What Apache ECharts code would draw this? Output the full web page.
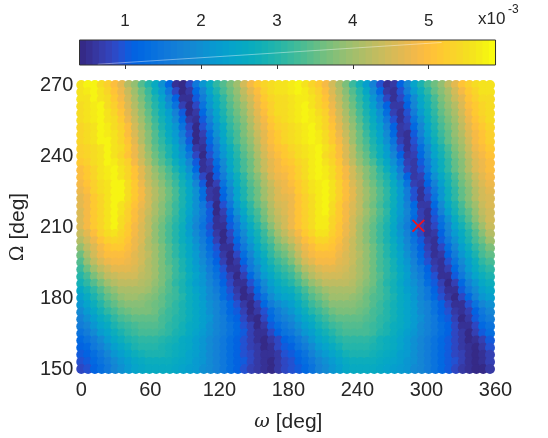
<!DOCTYPE html>
<html>
<head>
<meta charset="utf-8">
<title>Omega map</title>
<script src="https://cdn.jsdelivr.net/npm/echarts@6/dist/echarts.min.js"></script>
<style>html,body{margin:0;padding:0;background:#fff}#c{width:548px;height:438px}</style>
</head>
<body>
<div id="c"></div>
<script>
// Values per row of constant Omega, in units of 1e-4; columns run along omega.
const row270 = [56,58,58,55,53,50,47,42,39,34,30,26,20,12,5,4,8,15,21,26,31,34,37,40,45,49,52,54,55,56,56,57,58,56,54,52,49,45,41,37,32,28,23,17,9,5,6,11,18,24,29,33,36,39,43,47,51,53,55,56,56];
const row267 = [56,57,58,56,54,51,48,44,40,36,32,27,22,15,8,4,6,12,18,24,29,33,36,39,43,47,50,53,55,56,56,57,58,57,55,53,50,46,42,38,34,30,25,19,12,6,5,9,16,22,27,31,35,38,41,45,49,52,54,56,56];
const row264 = [56,56,58,56,55,52,49,45,41,37,33,29,24,18,11,5,5,10,16,22,27,31,35,38,42,45,49,52,54,55,55,56,57,57,56,54,51,47,43,39,35,31,27,21,15,8,5,8,13,19,25,29,33,37,40,44,47,51,53,55,55];
const row261 = [55,56,57,58,55,53,50,46,42,38,34,30,26,20,14,7,4,8,14,21,26,30,34,37,40,44,48,51,53,55,55,56,57,58,56,54,52,48,44,40,36,32,28,23,17,11,6,6,11,18,24,28,32,36,39,42,46,50,52,54,55];
const row258 = [55,56,57,58,56,54,51,47,43,39,35,31,27,23,17,10,4,6,12,19,24,29,33,36,39,43,47,50,53,55,55,56,57,58,57,55,53,49,45,41,37,33,29,25,20,13,7,5,9,16,22,27,31,35,38,41,45,49,52,54,55];
const row255 = [55,56,57,58,56,55,52,48,44,40,36,32,28,24,19,12,6,5,10,17,23,28,32,35,38,42,46,49,52,54,55,56,57,58,57,56,54,50,46,42,38,34,30,26,21,15,9,5,8,14,20,26,30,34,37,40,44,48,51,53,55];
const row252 = [54,55,56,58,57,55,53,50,45,41,37,33,29,25,21,14,8,4,9,15,21,26,31,34,37,41,45,48,51,53,54,55,56,57,58,56,54,51,47,43,39,35,31,27,23,17,11,6,7,12,18,24,29,33,36,39,43,47,50,52,54];
const row249 = [54,55,56,58,57,56,54,50,46,42,38,34,30,26,22,16,9,4,7,13,20,25,30,33,37,40,44,47,50,52,54,55,56,57,58,57,55,52,48,44,40,36,32,28,24,19,12,6,5,10,17,23,28,32,35,39,42,46,49,51,53];
const row246 = [54,55,56,58,58,56,54,51,47,42,38,34,31,27,23,18,10,4,6,12,18,24,29,33,36,39,43,47,50,52,54,55,56,57,58,57,55,52,49,45,40,36,33,29,25,20,14,7,5,9,15,21,27,31,35,38,41,45,49,51,53];
const row243 = [53,54,55,56,58,56,55,52,48,44,39,35,32,29,25,20,13,6,5,10,16,22,27,31,35,38,42,46,49,51,52,54,55,56,57,58,56,54,50,46,42,37,34,30,27,22,16,9,5,8,13,19,25,29,33,37,40,44,48,50,52];
const row240 = [53,54,55,56,58,56,54,51,48,44,40,36,33,29,25,21,15,8,4,9,15,21,26,30,34,37,41,45,48,50,52,53,55,56,57,58,55,53,50,46,42,38,35,31,27,23,18,11,6,7,12,18,24,28,32,36,39,43,47,49,51];
const row237 = [52,53,55,56,58,57,55,53,49,45,41,37,34,31,27,23,18,10,5,7,13,19,25,29,33,36,40,44,47,49,51,52,54,55,57,58,56,54,51,47,43,39,36,33,29,25,20,14,7,6,10,16,22,27,31,35,38,42,46,48,50];
const row234 = [50,52,54,56,57,58,56,54,51,47,43,39,36,33,29,25,20,12,5,6,11,18,24,29,33,36,40,44,47,49,50,51,53,55,57,58,57,55,52,49,45,41,38,35,31,27,22,16,8,6,9,15,22,27,31,35,38,42,46,48,50];
const row231 = [50,52,54,56,57,58,56,54,51,47,43,40,37,34,31,27,22,15,8,4,10,16,22,27,31,35,38,42,46,48,49,51,53,55,57,58,57,55,52,49,45,42,38,35,32,29,24,18,11,6,7,13,20,25,29,33,37,40,44,47,49];
const row228 = [49,51,53,55,56,58,58,55,52,48,44,41,38,35,32,28,24,18,10,4,7,14,20,26,30,34,37,41,44,47,48,50,52,54,56,57,58,56,53,50,46,43,39,36,33,30,26,21,14,7,6,11,17,23,28,32,36,39,43,46,48];
const row225 = [48,50,53,55,56,58,58,55,52,49,45,42,39,36,33,29,25,20,13,6,5,12,18,24,29,33,36,40,43,46,48,49,52,54,56,57,58,56,53,50,47,43,40,37,34,31,27,22,16,9,5,9,15,21,27,31,35,38,42,45,47];
const row222 = [47,49,52,54,56,58,58,55,52,49,45,42,39,36,33,29,25,20,13,6,5,11,17,24,29,33,36,40,43,46,47,48,51,53,55,57,58,56,53,50,47,43,40,37,34,31,27,22,16,9,5,8,14,21,27,31,35,38,42,45,46];
const row219 = [47,49,52,54,56,58,56,54,51,48,45,41,38,35,32,29,25,20,15,9,4,9,15,22,27,31,35,38,42,45,46,48,51,53,55,57,58,55,52,49,46,43,39,36,33,30,27,22,17,12,6,6,12,19,25,29,33,37,40,44,46];
const row216 = [46,49,52,54,56,58,56,53,50,47,44,41,38,35,32,28,24,20,16,10,4,7,13,20,25,30,33,37,41,44,46,48,51,53,55,57,58,55,52,49,46,43,40,37,34,31,26,22,18,13,7,5,10,17,23,28,32,35,39,43,45];
const row213 = [46,49,52,54,56,58,55,53,50,47,43,40,37,34,31,28,23,19,15,10,5,6,11,17,23,28,32,36,40,43,45,48,51,53,55,57,57,54,52,49,45,42,39,36,33,30,26,21,17,12,7,5,9,14,20,26,30,34,38,42,45];
const row210 = [46,49,52,54,56,58,55,52,49,46,43,39,36,33,30,27,22,18,14,9,5,5,10,15,21,26,30,34,38,42,45,48,51,53,55,57,57,54,51,48,45,41,38,35,32,29,25,20,16,12,7,5,8,13,18,24,28,32,36,40,44];
const row207 = [44,47,50,53,55,56,54,52,49,46,43,39,36,33,30,27,23,19,15,10,6,4,8,14,19,24,28,32,36,40,43,46,49,52,54,56,56,53,51,48,45,41,38,35,32,29,25,21,17,13,8,5,6,11,17,22,26,30,34,38,42];
const row204 = [42,45,48,51,53,54,53,51,48,46,42,39,36,33,30,27,24,20,16,12,7,4,7,12,17,22,27,31,34,38,41,44,47,50,52,54,54,52,50,47,44,41,38,35,32,29,26,22,18,14,10,6,5,10,15,20,25,29,33,36,40];
const row201 = [39,43,46,49,51,52,52,50,48,45,42,40,37,34,31,28,25,21,17,13,9,5,5,10,15,20,25,29,32,36,38,41,45,48,50,52,52,51,49,47,44,41,39,36,33,30,27,23,19,15,11,7,5,8,13,18,23,27,31,34,37];
const row198 = [36,41,45,48,50,50,50,49,47,45,43,40,37,34,31,28,25,22,18,14,10,6,4,8,13,18,23,27,31,34,36,39,43,47,49,50,50,50,48,46,44,42,39,36,33,30,27,24,20,16,12,8,5,6,11,16,21,25,29,33,35];
const row195 = [34,39,43,46,48,49,49,48,47,45,42,40,37,34,32,29,26,22,19,15,11,7,4,6,11,16,21,25,29,32,34,37,41,45,47,49,49,49,47,46,44,41,39,36,33,31,28,24,21,17,13,9,6,5,9,14,19,23,27,31,33];
const row192 = [32,36,40,43,45,47,47,47,46,44,42,40,37,35,32,29,26,23,20,16,13,9,5,5,9,15,19,24,27,30,32,34,38,42,44,46,47,47,46,45,43,41,39,36,33,31,28,25,22,18,15,11,7,5,7,12,17,22,26,29,31];
const row189 = [30,33,37,40,43,44,45,45,45,43,42,40,37,35,32,30,27,24,21,17,14,10,7,4,7,12,17,22,25,28,30,32,35,39,42,44,45,45,45,44,43,41,39,36,34,31,29,26,23,19,16,12,9,5,5,10,15,20,24,27,29];
const row186 = [28,31,34,37,40,42,43,43,43,42,41,39,37,34,31,29,26,23,21,18,15,11,8,5,5,9,14,19,23,26,28,30,33,36,39,41,43,43,43,43,42,40,38,36,33,30,28,25,22,20,17,13,10,7,4,7,12,17,21,25,27];
const row183 = [25,28,31,34,37,39,41,41,41,41,40,38,36,34,32,29,27,24,22,19,16,13,9,6,4,7,12,17,21,24,26,27,30,33,36,38,40,41,41,41,41,39,37,35,33,31,28,26,23,21,18,15,11,8,5,5,10,15,19,23,25];
const row180 = [23,26,29,32,35,37,39,40,40,39,38,37,35,33,32,30,27,25,22,19,17,13,10,7,4,5,10,14,19,22,24,25,28,31,34,36,38,40,40,40,39,38,36,34,33,31,29,26,24,21,18,15,12,9,6,4,8,12,17,21,23];
const row177 = [21,24,27,30,33,35,37,38,38,38,37,36,35,33,31,29,27,25,23,20,18,15,12,9,6,4,7,12,16,19,21,23,26,29,32,34,36,38,38,38,38,37,36,34,32,30,28,26,24,22,19,17,14,11,8,5,5,9,14,18,20];
const row174 = [19,22,25,28,31,33,35,36,37,37,37,36,34,32,31,29,27,25,23,20,18,15,12,10,7,4,6,9,13,16,19,21,24,27,30,32,34,36,37,37,37,36,35,33,32,30,28,26,24,22,19,17,14,11,9,6,5,7,11,15,18];
const row171 = [17,20,23,26,28,31,33,34,35,35,35,35,33,32,30,29,27,25,23,21,18,16,13,11,8,5,4,8,12,15,17,19,22,25,27,30,32,34,35,35,35,35,34,33,31,30,28,26,24,22,20,17,15,12,10,7,4,6,10,14,16];
const row168 = [16,18,21,24,26,29,31,32,33,34,34,34,33,31,30,28,26,25,23,20,18,16,14,12,9,7,4,6,10,13,15,17,20,23,25,28,30,32,33,34,34,34,33,32,31,29,27,26,24,22,19,17,15,13,11,8,5,5,8,12,14];
const row165 = [14,16,19,22,24,27,29,31,32,33,33,33,32,31,29,28,26,24,22,20,18,16,14,12,10,7,5,5,8,11,14,15,18,21,23,26,28,30,32,33,33,33,33,32,30,29,27,25,23,21,19,17,15,13,11,8,6,4,7,10,13];
const row162 = [12,14,16,19,22,25,27,29,30,31,31,31,30,29,28,26,25,23,21,19,17,15,13,11,9,7,5,4,6,8,11,13,15,18,21,24,26,28,30,31,31,31,31,30,28,27,26,24,22,20,18,16,14,12,10,8,6,4,5,7,10];
const row159 = [11,12,15,17,20,23,25,27,29,30,30,30,29,28,27,26,25,23,21,19,17,15,13,11,9,7,6,4,5,8,10,11,14,16,19,22,24,26,28,30,30,30,30,29,28,27,26,24,22,20,18,16,14,12,10,8,6,5,4,6,9];
const row156 = [10,11,13,15,18,21,23,25,27,28,29,29,29,28,27,26,24,23,21,19,17,15,13,11,9,8,6,5,5,6,9,10,12,14,17,20,22,24,26,28,29,29,29,28,27,26,25,23,22,20,18,16,14,12,10,8,7,5,4,5,7];
const row153 = [9,10,12,14,16,19,21,23,25,26,27,27,27,27,26,25,24,22,21,19,17,15,13,11,10,8,6,5,4,6,8,9,11,13,15,18,20,22,24,26,27,27,27,27,26,25,24,23,21,20,18,16,14,12,10,9,7,5,4,5,7];
const row150 = [8,9,11,13,15,18,20,22,24,25,26,26,26,26,25,24,23,22,20,19,17,15,13,11,9,7,6,5,4,6,8,9,10,12,14,17,19,21,23,25,26,26,26,26,25,24,23,22,21,19,18,16,14,12,10,8,6,5,4,4,6];

const omegaRows = [
  [270,row270],[267,row267],[264,row264],[261,row261],[258,row258],[255,row255],[252,row252],
  [249,row249],[246,row246],[243,row243],[240,row240],[237,row237],[234,row234],[231,row231],
  [228,row228],[225,row225],[222,row222],[219,row219],[216,row216],[213,row213],[210,row210],
  [207,row207],[204,row204],[201,row201],[198,row198],[195,row195],[192,row192],[189,row189],
  [186,row186],[183,row183],[180,row180],[177,row177],[174,row174],[171,row171],[168,row168],
  [165,row165],[162,row162],[159,row159],[156,row156],[153,row153],[150,row150]
];
const omegaStep = 5.92;
const selectedPoint = [293, 210.5];

const xTicks = [0, 60, 120, 180, 240, 300, 360];
const yTicks = [150, 180, 210, 240, 270];
const colorTicks = [1, 2, 3, 4, 5];
const colorRange = [0.4, 5.88];

// Parula colormap, 64 steps.
const parula = [
[53,42,135],[54,48,147],[54,55,160],[53,61,173],[50,67,186],[44,74,199],[32,83,212],[15,92,221],
[3,99,225],[2,104,225],[4,109,224],[8,113,222],[13,117,220],[16,121,218],[18,125,216],[20,129,214],
[20,133,212],[19,137,211],[16,142,210],[12,147,210],[9,152,209],[7,156,207],[6,160,205],[6,164,202],
[6,167,198],[7,169,194],[10,172,190],[15,174,185],[21,177,180],[29,179,175],[37,181,169],[46,183,164],
[56,185,158],[66,187,152],[77,188,146],[89,189,140],[101,190,134],[113,191,128],[124,191,123],[135,191,119],
[146,191,115],[156,191,111],[165,190,107],[174,190,103],[183,189,100],[192,188,96],[200,188,93],[209,187,89],
[217,186,86],[225,185,82],[233,185,78],[241,185,74],[248,187,68],[253,190,61],[255,195,55],[254,200,50],
[252,206,46],[250,211,42],[247,216,38],[245,222,33],[245,228,29],[245,235,24],[246,243,19],[249,251,14]
].map(c => `rgb(${c[0]},${c[1]},${c[2]})`);

const points = [];
omegaRows.forEach(([om, vals]) => vals.forEach((v, i) => points.push([i * omegaStep, om, v])));

const textColor = '#262626';
const sans = '"Liberation Sans", Arial, sans-serif';

// Colorbar cells: one rectangle per colormap step across the value range.
const barStep = (colorRange[1] - colorRange[0]) / parula.length;
const barCells = parula.map((c, i) => [colorRange[0] + i * barStep, colorRange[0] + (i + 1) * barStep, c]);

const chart = echarts.init(document.getElementById('c'), null, {renderer: 'canvas'});
chart.setOption({
  animation: false,
  backgroundColor: '#fff',
  grid: [
    {left: 79, right: 52.5, top: 85, height: 286},
    {left: 79.5, right: 52.5, top: 40, height: 25, show: true, backgroundColor: 'transparent', borderColor: '#333', borderWidth: 1, z: 5}
  ],
  xAxis: [
    {
      gridIndex: 0, type: 'value', min: 0, max: 360, interval: 60,
      axisLine: {show: false}, axisTick: {show: false}, splitLine: {show: false},
      axisLabel: {color: textColor, fontSize: 20, fontFamily: sans, margin: 11, customValues: xTicks},
      name: '{w|ω} [deg]', nameLocation: 'middle', nameGap: 43,
      nameTextStyle: {color: textColor, fontSize: 21, fontFamily: sans,
        rich: {w: {fontFamily: '"DejaVu Serif", serif', fontStyle: 'italic', fontSize: 19, color: textColor}}}
    },
    {
      gridIndex: 1, type: 'value', min: colorRange[0], max: colorRange[1], position: 'top',
      axisLine: {show: false}, splitLine: {show: false},
      axisTick: {show: true, inside: true, length: 4, lineStyle: {color: '#333'}, customValues: colorTicks},
      axisLabel: {color: textColor, fontSize: 17, fontFamily: sans, margin: 10, customValues: colorTicks}
    }
  ],
  yAxis: [
    {
      gridIndex: 0, type: 'value', min: 150, max: 270, interval: 30,
      axisLine: {show: false}, axisTick: {show: false}, splitLine: {show: false},
      axisLabel: {color: textColor, fontSize: 20, fontFamily: sans, margin: 8, customValues: yTicks},
      name: '{o|Ω} [deg]', nameLocation: 'middle', nameGap: 43,
      nameTextStyle: {color: textColor, fontSize: 21, fontFamily: sans,
        rich: {o: {fontFamily: '"DejaVu Serif", serif', fontSize: 19, color: textColor}}}
    },
    {gridIndex: 1, type: 'value', min: 0, max: 1, show: false}
  ],
  visualMap: {
    show: false, type: 'continuous', seriesIndex: 0, dimension: 2,
    min: colorRange[0] * 10, max: colorRange[1] * 10, inRange: {color: parula}
  },
  series: [
    {
      type: 'scatter', xAxisIndex: 0, yAxisIndex: 0, data: points,
      symbol: 'circle', symbolSize: 10, clip: false, progressive: 0, large: false,
      itemStyle: {opacity: 1}, silent: true, z: 2
    },
    {
      type: 'scatter', xAxisIndex: 0, yAxisIndex: 0, data: [selectedPoint],
      symbol: 'path://M2,0L10,8L18,0L20,2L12,10L20,18L18,20L10,12L2,20L0,18L8,10L0,2Z',
      symbolSize: 13, clip: false, itemStyle: {color: '#f0101f', opacity: 1}, silent: true, z: 4
    },
    {
      type: 'custom', xAxisIndex: 1, yAxisIndex: 1, data: barCells, silent: true, z: 1,
      encode: {x: [0, 1]},
      renderItem(params, api) {
        const a = api.coord([api.value(0), 0]);
        const b = api.coord([api.value(1), 1]);
        return {
          type: 'rect',
          shape: {x: a[0], y: b[1], width: b[0] - a[0] + 0.6, height: a[1] - b[1]},
          style: {fill: barCells[params.dataIndex][2]}
        };
      }
    },
    {
      type: 'line', xAxisIndex: 1, yAxisIndex: 1, data: [[0.64, 0.03], [5.17, 0.9]],
      symbol: 'none', silent: true, z: 3,
      lineStyle: {color: '#fff', width: 1, opacity: 0.4}
    }
  ],
  graphic: [
    {type: 'text', x: 478, y: 19, style: {text: 'x10', fill: textColor, font: '17px ' + sans, textVerticalAlign: 'middle'}},
    {type: 'text', x: 508, y: 10, style: {text: '-3', fill: textColor, font: '12px ' + sans, textVerticalAlign: 'middle'}}
  ]
});
</script>
</body>
</html>
